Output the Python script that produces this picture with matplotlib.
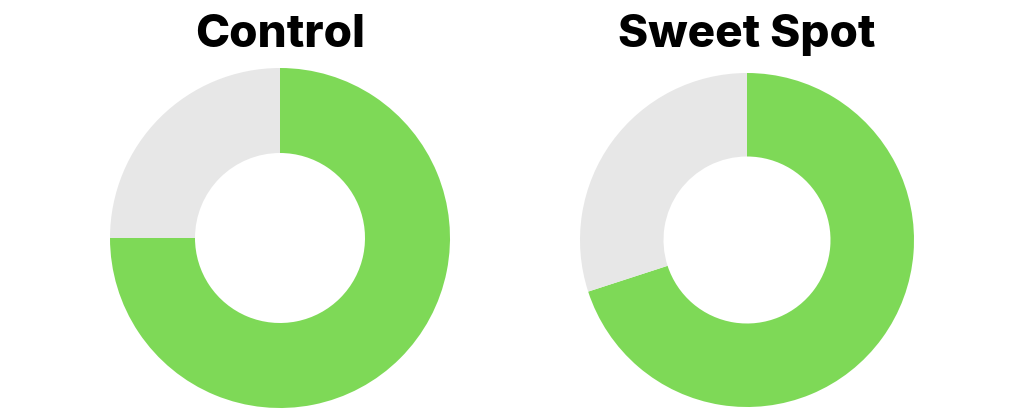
import matplotlib
matplotlib.use("Agg")
import matplotlib.pyplot as plt

titles = ["Control", "Sweet Spot"]
green_share = [75, 70]
grey_share = [25, 30]

GREEN = "#7ed957"
GREY = "#e7e7e7"

fig = plt.figure(figsize=(10.24, 4.16), dpi=100)

# axes boxes in figure fraction, one per donut
boxes = [
    [110 / 1024, 8 / 416, 340 / 1024, 340 / 416],
    [580 / 1024, 9 / 416, 334 / 1024, 334 / 416],
]
title_x = [280 / 1024, 747 / 1024]

for i in range(2):
    ax = fig.add_axes(boxes[i])
    ax.pie([green_share[i], grey_share[i]], colors=[GREEN, GREY],
           startangle=90, counterclock=False,
           wedgeprops=dict(width=0.5, edgecolor="none"))
    ax.set_xlim(-1, 1)
    ax.set_ylim(-1, 1)
    ax.set_aspect("equal")
    ax.axis("off")
    fig.text(title_x[i], 1 - 35 / 416, titles[i], ha="center", va="center",
             fontsize=33, fontweight="heavy", family=["Inter", "DejaVu Sans"])

fig.savefig("out.png", dpi=100, facecolor="white")
